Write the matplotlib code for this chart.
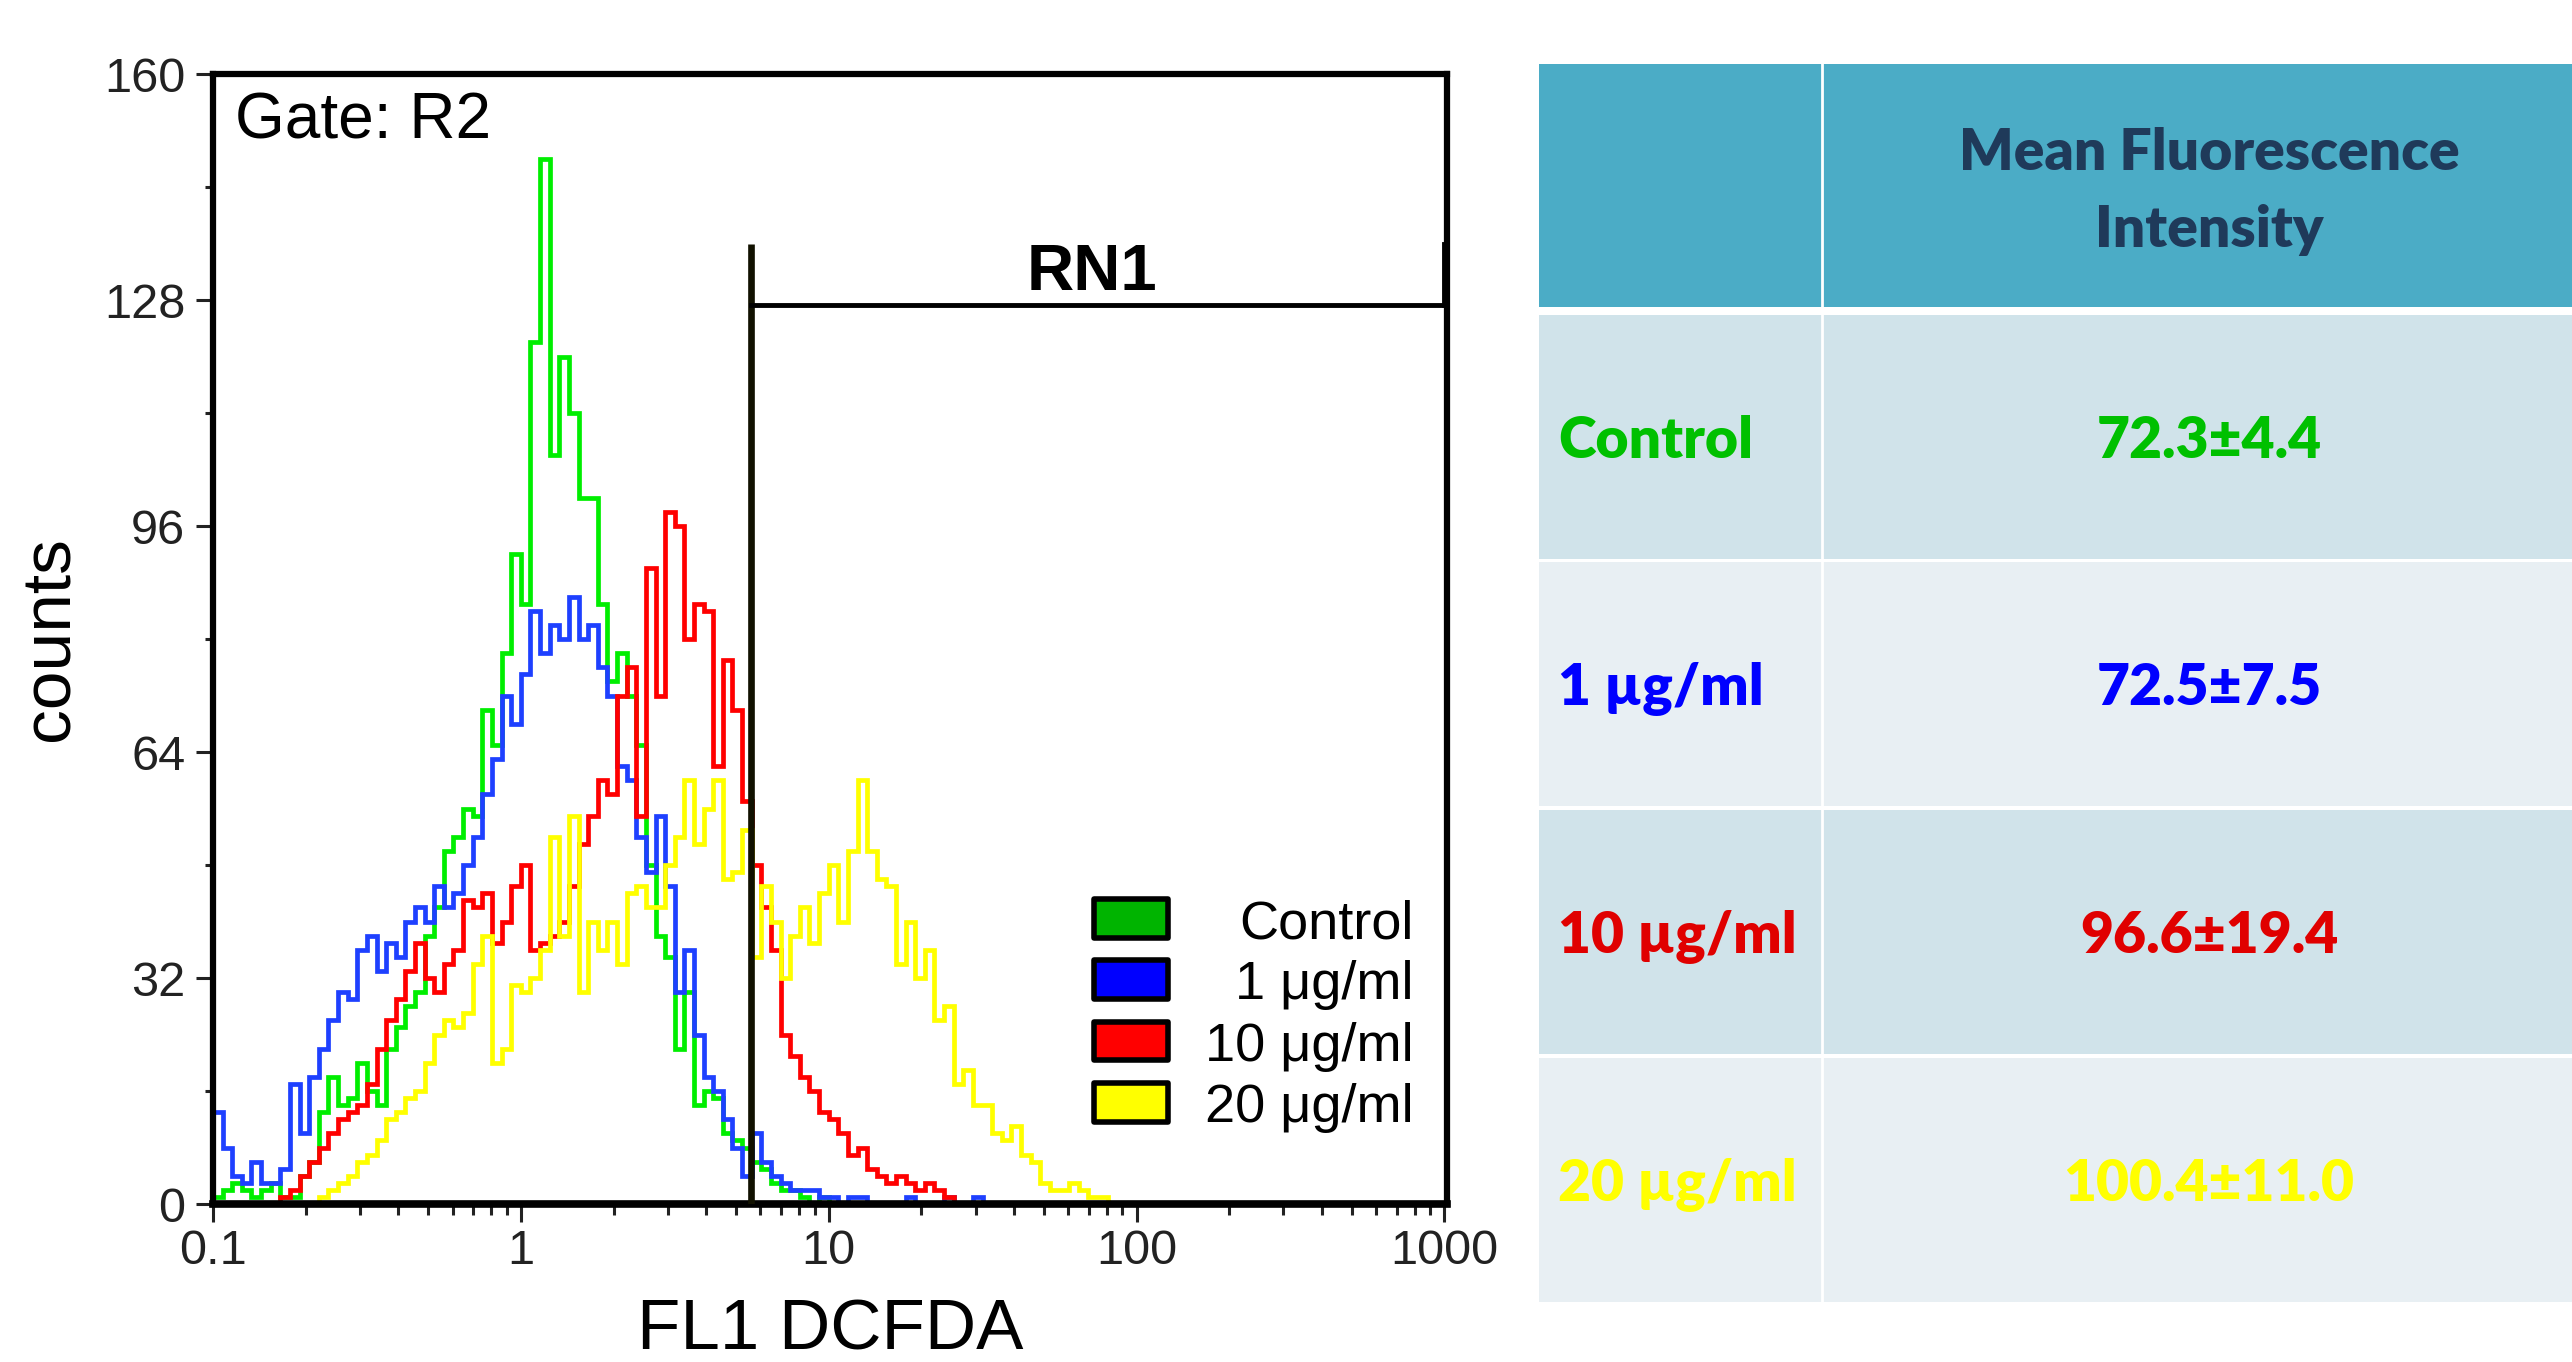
import numpy as np
import matplotlib
matplotlib.use("Agg")
import matplotlib.pyplot as plt
from matplotlib.patches import Rectangle
from matplotlib.ticker import LogLocator, NullFormatter, FixedLocator

plt.rcParams['font.family'] = ['Liberation Sans', 'DejaVu Sans']

# ---------------- data ----------------
# FL1 (DCFDA) histogram, 32 channels per decade from 0.1 to 1000 (128 channels)
control = [1, 2, 3, 2, 1, 2, 3, 1, 1, 4,
           6, 13, 18, 14, 15, 20, 16, 14, 22, 25,
           28, 30, 38, 42, 50, 52, 56, 55, 70, 65,
           78, 92, 85, 122, 148, 106, 120, 112, 100, 100,
           85, 74, 78, 72, 65, 48, 38, 35, 22, 30,
           14, 16, 15, 10, 9, 8, 6, 5, 3, 2,
           2, 1, 0, 1, 0, 0, 0, 0, 0, 0] + [0] * 58
ug1 = [13, 8, 4, 3, 6, 3, 3, 5, 17, 10,
       18, 22, 26, 30, 29, 36, 38, 33, 37, 35,
       40, 42, 40, 45, 42, 44, 48, 52, 58, 63,
       72, 68, 75, 84, 78, 82, 80, 86, 80, 82,
       76, 72, 62, 60, 52, 47, 55, 45, 30, 36,
       24, 18, 16, 12, 8, 4, 10, 6, 4, 3,
       2, 2, 2, 1, 1, 0, 1, 1, 0, 0,
       0, 0, 1, 0, 0, 0, 1, 0, 0, 1] + [0] * 48
ug10 = [0, 0, 0, 0, 0, 0, 0, 1, 2, 4,
        6, 8, 10, 12, 13, 14, 17, 22, 26, 29,
        33, 37, 32, 30, 34, 36, 43, 42, 44, 37,
        40, 45, 48, 36, 37, 38, 40, 45, 51, 55,
        60, 58, 72, 76, 55, 90, 72, 98, 96, 80,
        85, 84, 62, 77, 70, 57, 48, 42, 36, 24,
        21, 18, 16, 13, 12, 10, 7, 8, 5, 4,
        3, 4, 3, 2, 3, 2, 1, 0, 0, 0] + [0] * 48
ug20 = [0, 0, 0, 0, 0, 0, 0, 0, 0, 0,
        0, 1, 2, 3, 4, 6, 7, 9, 12, 13,
        15, 16, 20, 24, 26, 25, 27, 34, 38, 20,
        22, 31, 30, 32, 36, 52, 38, 55, 30, 40,
        36, 40, 34, 44, 45, 42, 42, 48, 52, 60,
        51, 56, 60, 46, 47, 53, 35, 45, 40, 32,
        38, 42, 37, 44, 48, 40, 50, 60, 50, 46,
        45, 34, 40, 32, 36, 26, 28, 17, 19, 14,
        14, 10, 9, 11, 7, 6, 3, 2, 2, 3,
        2, 1, 1, 0, 0, 0, 0, 0, 0, 0] + [0] * 28

series_labels = ["Control", "1 \u03bcg/ml", "10 \u03bcg/ml", "20 \u03bcg/ml"]
line_colors = ["#00EE00", "#1E40FF", "#FF0000", "#FFFF00"]
legend_colors = ["#00B400", "#0000FF", "#FF0000", "#FFFF00"]

x_ticks = [0.1, 1, 10, 100, 1000]
x_ticklabels = ["0.1", "1", "10", "100", "1000"]
y_ticks = [0, 32, 64, 96, 128, 160]
y_minor = [16, 48, 80, 112, 144]

# RN1 marker region
rn1_start, rn1_end = 5.58, 1000
rn1_level, rn1_top = 127.3, 136

# table
table_header = ["Mean Fluorescence", "Intensity"]
row_labels = ["Control", "1 \u00b5g/ml", "10 \u00b5g/ml", "20 \u00b5g/ml"]
mfi_mean = [72.3, 72.5, 96.6, 100.4]
mfi_sd = [4.4, 7.5, 19.4, 11.0]
row_text_colors = ["#00C000", "#0000FF", "#E00000", "#FFFF00"]

# ---------------- figure ----------------
W, H = 2572, 1362
fig = plt.figure(figsize=(W / 100, H / 100), dpi=100)
fig.patch.set_facecolor("white")

# table overlay axes (pixel coordinates)
tab = fig.add_axes([0, 0, 1, 1])
tab.set_xlim(0, W)
tab.set_ylim(H, 0)
tab.axis("off")

ax = fig.add_axes([213 / W, 1 - 1204 / H, (1447 - 213) / W, (1204 - 74) / H])

edges = np.logspace(-1, 3, 129)
for vals, c in zip([control, ug1, ug10, ug20], line_colors):
    ax.stairs(vals, edges, color=c, lw=3.4)

ax.set_xscale("log")
ax.set_xlim(0.1, 1020)
ax.set_ylim(0, 160)

ax.xaxis.set_major_locator(FixedLocator(x_ticks))
ax.set_xticklabels(x_ticklabels)
ax.xaxis.set_minor_locator(LogLocator(base=10, subs=np.arange(2, 10)))
ax.xaxis.set_minor_formatter(NullFormatter())
ax.set_yticks(y_ticks)
ax.set_yticks(y_minor, minor=True)

ax.tick_params(axis="both", which="both", direction="out", width=2.2,
               colors="#222222", labelsize=35)
ax.tick_params(axis="y", which="major", length=12, pad=8)
ax.tick_params(axis="y", which="minor", length=6)
ax.tick_params(axis="x", which="major", length=13, pad=5)
ax.tick_params(axis="x", which="minor", length=8)
ax.tick_params(top=False, right=False, which="both")

for s in ax.spines.values():
    s.set_linewidth(4.5)
    s.set_color("black")
ax.spines["bottom"].set_linewidth(5.5)

ax.set_ylabel("counts", fontsize=50)
ax.yaxis.set_label_coords(-0.106, 0.5)
ax.set_xlabel("FL1 DCFDA", fontsize=51)
ax.xaxis.set_label_coords(0.5, -0.084)

ax.text(0.018, 0.9425, "Gate: R2", transform=ax.transAxes, fontsize=46,
        ha="left", va="baseline")

# RN1 gate marker
ax.plot([rn1_start, rn1_start], [0, rn1_top], color="#111100", lw=4.8,
        solid_capstyle="butt", zorder=5)
ax.plot([rn1_start, rn1_end], [rn1_level, rn1_level], color="black", lw=3.5,
        zorder=5)
ax.plot([rn1_end, rn1_end], [rn1_level, rn1_top], color="black", lw=3.5,
        zorder=5)
ax.text(71.5, 129.4, "RN1", fontsize=47, fontweight="bold", ha="center",
        va="baseline")

# legend (manual, text right-aligned)
for i, (lab, col) in enumerate(zip(series_labels, legend_colors)):
    yc = 0.2526 - i * 0.0542
    ax.add_patch(Rectangle((0.714, yc - 0.0172), 0.060, 0.0345,
                           transform=ax.transAxes, facecolor=col,
                           edgecolor="black", lw=4.0, joinstyle="round",
                           zorder=6))
    ax.text(0.973, yc, lab, transform=ax.transAxes, fontsize=39,
            ha="right", va="center_baseline", zorder=6)

# ---------------- table ----------------
tab_left, col_split, tab_right = 1539, 1822, W + 10
hdr_top, hdr_bot = 64, 307
row_tops = [315, 562, 810, 1058]
row_h = 244
row_bg = ["#D0E3EA", "#E8EFF3"]

tab.add_patch(Rectangle((tab_left, hdr_top), tab_right - tab_left,
                        hdr_bot - hdr_top, facecolor="#4BACC6",
                        edgecolor="none"))
for i, top in enumerate(row_tops):
    tab.add_patch(Rectangle((tab_left, top), tab_right - tab_left, row_h,
                            facecolor=row_bg[i % 2], edgecolor="none"))
tab.plot([col_split, col_split], [hdr_top, row_tops[-1] + row_h],
         color="white", lw=2)

tfont = ["Lato", "DejaVu Sans"]
tw = "heavy"
tab.text(2209, 170.5, table_header[0], ha="center", va="baseline",
         fontsize=41, fontweight=tw, color="#1F3A5A", family=tfont)
tab.text(2209, 247, table_header[1], ha="center", va="baseline",
         fontsize=41, fontweight=tw, color="#1F3A5A", family=tfont)

for top, lab, m, s, c in zip(row_tops, row_labels, mfi_mean, mfi_sd,
                             row_text_colors):
    base = top + 143
    tab.text(1558, base, lab, ha="left", va="baseline", fontsize=41,
             fontweight=tw, color=c, family=tfont)
    tab.text(2209, base, f"{m:.1f}\u00b1{s:.1f}", ha="center",
             va="baseline", fontsize=41, fontweight=tw, color=c,
             family=tfont)

fig.savefig("out.png", dpi=100, facecolor="white")
